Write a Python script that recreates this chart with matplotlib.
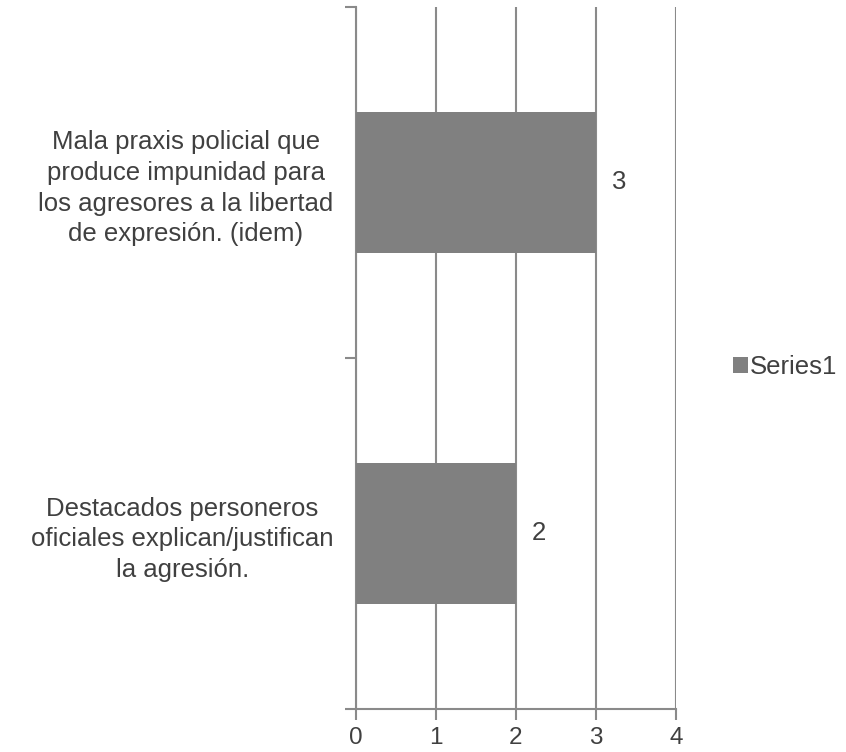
import matplotlib.pyplot as plt

plt.rcParams["font.family"] = ["Liberation Sans", "DejaVu Sans"]

categories = [
    "Destacados personeros\noficiales explican/justifican\nla agresión.",
    "Mala praxis policial que\nproduce impunidad para\nlos agresores a la libertad\nde expresión. (idem)",
]
values = [2, 3]
series_name = "Series1"

text_color = "#404040"
bar_color = "#808080"
line_color = "#8a8a8a"
fs = 18.5

fig = plt.figure(figsize=(8.46, 7.52), dpi=100)
ax = fig.add_axes([0.4205, 0.0572, 0.799 - 0.4205, 0.9907 - 0.0572])

pos = list(range(len(categories)))
bars = ax.barh(pos, values, height=0.4, color=bar_color, label=series_name, zorder=3)

for y, v in zip(pos, values):
    ax.text(v + 0.2, y, str(v), va="center", ha="left", fontsize=fs, color=text_color)

ax.set_xlim(0, 4)
ax.set_ylim(-0.5, len(categories) - 0.5)
ax.set_xticks(range(5))
ax.set_yticks([-0.5, 0.5, 1.5])
ax.set_yticklabels([])
ax.set_yticks(pos, minor=True)
ax.set_yticklabels(categories, minor=True, multialignment="center", linespacing=1.35)

ax.grid(axis="x", color=line_color, linewidth=1.5, zorder=0)
for side in ["top", "right"]:
    ax.spines[side].set_visible(False)
for side in ["left", "bottom"]:
    ax.spines[side].set_color(line_color)
    ax.spines[side].set_linewidth(1.5)

ax.tick_params(axis="x", which="major", length=8, width=1.5, color=line_color,
               labelsize=17.5, labelcolor=text_color, pad=5)
ax.tick_params(axis="y", which="major", length=8, width=1.5, color=line_color)
ax.tick_params(axis="y", which="minor", length=0, labelsize=fs,
               labelcolor=text_color, pad=16)

fig.legend(handles=[bars], labels=[series_name], loc="center left",
           bbox_to_anchor=(0.866, 0.512), frameon=False, fontsize=fs,
           handlelength=0.6, handleheight=0.6, handletextpad=0.05,
           borderpad=0, borderaxespad=0, labelcolor=text_color)

fig.savefig("out.png", dpi=100)
